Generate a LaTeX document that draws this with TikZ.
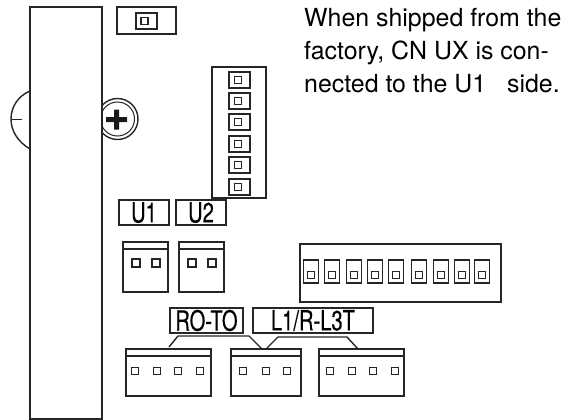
\documentclass[tikz,border=0pt]{standalone}
\usepackage{fontspec}
\setmainfont{TeX Gyre Heros}
\newfontfamily\tagfont[FakeStretch=0.72,FakeBold=0.3]{TeX Gyre Heros}
\tikzset{
	part/.style={draw=black!85, line width=1.4pt, rectangle, inner sep=0pt, outer sep=0pt},
	contact/.style={part, minimum width=21pt, minimum height=16pt},
	pin/.style={part, minimum width=7pt, minimum height=7pt},
	plug/.style={part, minimum height=47pt},
	tag/.style={part, font=\tagfont\fontsize{28}{28}\selectfont, minimum height=25pt},
	leader/.style={draw=black!85, line width=1.4pt}
}
\begin{document}
\begin{tikzpicture}[x=1pt, y=-1pt]
	\useasboundingbox (0,0) rectangle (570,420);
	% screw and handle sit behind the board
	\draw[leader] (117.5,119) circle (20.5pt);
	\draw[leader, line width=1pt] (117.5,119) circle (17pt);
	\fill[black!90] (106,117) rectangle (127,122) (114,109.5) rectangle (119,129.5);
	\coordinate (handle top) at (30,91);
	\coordinate (handle bot) at (30,149);
	\coordinate (handle tip) at (11,119);
	\coordinate (handle end) at (22,119);
	\draw[leader] (handle top) .. controls (18,96) and (11,107) .. (handle tip) .. controls (11,131) and (18,142) .. (handle bot);
	\draw[leader, line width=1pt] (handle tip) -- (handle end);
	\node[part, fill=white, minimum width=72pt, minimum height=412pt] (board) at (66,213) {};
	% jumper
	\node[part, minimum width=59pt, minimum height=27pt] (jumper) at (146.5,20.5) {};
	\node[contact] (jumper socket) at (146.5,21) {};
	\node[pin] (jumper pin) at (144.5,21) {};
	% six way socket
	\node[part, minimum width=54pt, minimum height=131pt] (socket) at (239,132.5) {};
	\foreach \s/\t in {1/80,2/101,3/122,4/144,5/165,6/187}{
		\node[contact] (socket \s) at (239.5,\t) {};
		\node[pin] (socket pin \s) at (238,\t) {};
	}
	% dip switch
	\node[part, minimum width=201pt, minimum height=58pt] (dip) at (400.5,273) {};
	\foreach \s/\t in {1/311,2/332,3/354,4/375,5/396,6/419,7/441,8/462,9/482}{
		\node[part, minimum width=15pt, minimum height=23pt] (dip \s) at (\t,271.5) {};
		\node[pin] (dip pin \s) at (\t,275) {};
	}
	% tags
	\node[tag, minimum width=50pt] (u1) at (144,212.5) {U1};
	\node[tag, minimum width=50pt] (u2) at (201,212.5) {U2};
	\node[tag, minimum width=73pt] (ro to) at (206.5,320.5) {RO-TO};
	\node[tag, minimum width=120pt] (l1 l3) at (313,320.5) {L1/R-L3T};
	% plugs
	\node[plug, minimum width=45pt, minimum height=50pt] (plug u1) at (145.5,267) {};
	\node[plug, minimum width=45pt, minimum height=50pt] (plug u2) at (201.5,267) {};
	\node[plug, minimum width=85pt] (plug a) at (168.5,372.5) {};
	\node[plug, minimum width=70pt] (plug b) at (266,372.5) {};
	\node[plug, minimum width=85pt] (plug c) at (361.5,372.5) {};
	\foreach \s in {plug u1,plug u2,plug a,plug b,plug c}
		\draw[leader] ([yshift=-7pt]\s.north west) -- ([yshift=-7pt]\s.north east);
	\foreach \s/\t in {136/1,156/2,192/3,212/4}
		\node[pin, minimum width=8pt, minimum height=8pt] (pin u\t) at (\s,263) {};
	\foreach \s in {135,157,178,200}
		\node[pin] (pin a\s) at (\s,371) {};
	\foreach \s in {243,266,287}
		\node[pin] (pin b\s) at (\s,371) {};
	\foreach \s in {330,352,373,395}
		\node[pin] (pin c\s) at (\s,371) {};
	% leaders
	\coordinate (ro a) at (169,347);
	\coordinate (ro b) at (262,349);
	\coordinate (l1 b) at (267,348);
	\coordinate (l1 c) at (358,349);
	\draw[leader] (ro a) -- (178,336) -- (249,336) -- (ro b);
	\draw[leader] (l1 b) -- (278,337) -- (347,337) -- (l1 c);
	% note
	\node[anchor=north west, inner sep=0pt, align=left, font=\fontsize{24.9}{33}\selectfont] (note) at (304,8.5)
		{When shipped from the\\factory, CN UX is con-\\nected to the U1\hspace{21pt}side.};
\end{tikzpicture}
\end{document}
